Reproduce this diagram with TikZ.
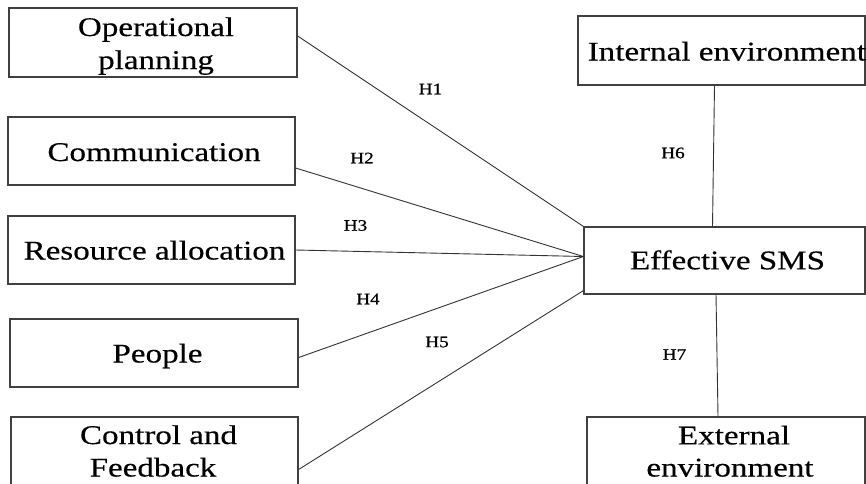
\documentclass[tikz,border=0pt]{standalone}
\usepackage{fontspec}
\setmainfont{Liberation Serif}
\newfontfamily\bigf[FakeStretch=1.225,FakeBold=0.4]{Liberation Serif}
\newfontfamily\smallf[FakeStretch=1.2,FakeBold=0.8]{Liberation Serif}
\usetikzlibrary{calc}
\tikzset{
  box/.style={draw=black!75, line width=1.2pt, rectangle, inner sep=0pt},
  txt/.style={anchor=base, inner sep=0pt, font=\bigf\fontsize{27}{33}\selectfont},
  hyp/.style={inner sep=0pt, font=\smallf\fontsize{16}{18}\selectfont},
  link/.style={draw=black!80, line width=0.9pt}
}
\begin{document}
\begin{tikzpicture}[x=1pt,y=-1pt]
\useasboundingbox (0,0) rectangle (866,483);
% boxes
\node[box, minimum width=288pt, minimum height=69pt] (op) at (153,42.5) {};
\node[box, minimum width=287pt, minimum height=68pt] (comm) at (151.5,151) {};
\node[box, minimum width=287pt, minimum height=68pt] (res) at (151.5,250) {};
\node[box, minimum width=288pt, minimum height=68pt] (peo) at (154,353) {};
\node[box, minimum width=287pt, minimum height=83pt] (ctrl) at (154.5,458.5) {};
\node[box, minimum width=287pt, minimum height=69pt] (int) at (721.5,50.5) {};
\node[box, minimum width=281pt, minimum height=67pt] (eff) at (724.5,260.5) {};
\node[box, minimum width=278pt, minimum height=83pt] (ext) at (726,458.5) {};
% texts
\node[txt] (t1a) at (156,36) {Operational};
\node[txt] (t1b) at (156,69) {planning};
\node[txt] (t2) at (154,161) {Communication};
\node[txt] (t3) at (154.5,259.5) {Resource allocation};
\node[txt] (t4) at (157.5,362.5) {People};
\node[txt] (t5a) at (158.5,444) {Control and};
\node[txt] (t5b) at (153,476.5) {Feedback};
\node[txt, anchor=base west] (t6) at (587.5,60.5) {Internal environment};
\node[txt] (t7) at (727.5,269.3) {Effective SMS};
\node[txt] (t8a) at (734,444.4) {External};
\node[txt] (t8b) at (730,476.5) {environment};
% connectors
\draw[link] ([yshift=6.5pt]op.east) -- (eff.north west);
\draw[link] ([yshift=-17pt]comm.east) -- ([yshift=4pt]eff.west);
\draw[link] (res.east) -- ([yshift=4pt]eff.west);
\draw[link] ([yshift=-4.5pt]peo.east) -- ([yshift=4pt]eff.west);
\draw[link] ([yshift=-11pt]ctrl.east) -- ([yshift=4pt]eff.south west);
\draw[link] ([xshift=-7pt]int.south) -- ([xshift=-12pt]eff.north);
\draw[link] ([xshift=-8.5pt]eff.south) -- ([xshift=-8pt]ext.north);
% labels
\node[hyp] (h1) at (430.5,89) {H1};
\node[hyp] (h2) at (362,158) {H2};
\node[hyp] (h3) at (355.5,225.5) {H3};
\node[hyp] (h4) at (368,299) {H4};
\node[hyp] (h5) at (437,342) {H5};
\node[hyp] (h6) at (673,153) {H6};
\node[hyp] (h7) at (674.5,354.5) {H7};
\end{tikzpicture}
\end{document}
